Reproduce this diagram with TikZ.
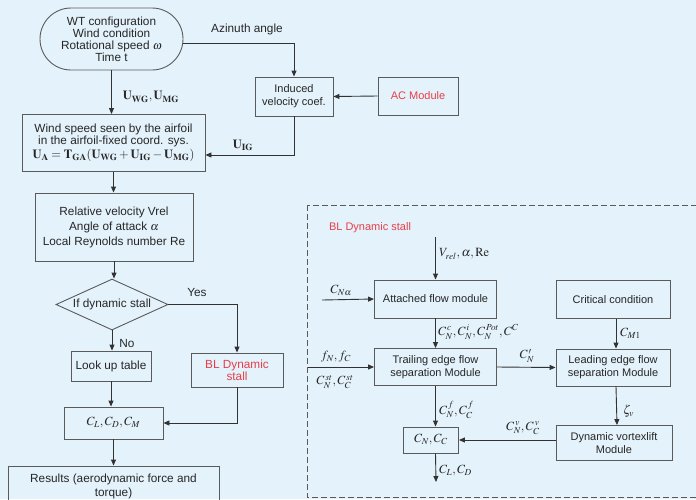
\documentclass[tikz,border=0pt]{standalone}
\usepackage{mathptmx}
\usepackage{fontspec}
\setmainfont{Liberation Sans}
\usetikzlibrary{arrows.meta,shapes.geometric,calc}
\definecolor{bg}{RGB}{228,242,251}
\definecolor{edge}{RGB}{90,90,90}
\definecolor{lncol}{RGB}{50,50,50}
\definecolor{redtxt}{RGB}{232,62,72}
\newcommand\fs{\fontsize{11.8}{12}\selectfont}
\newcommand\fsr{\fontsize{11}{13}\selectfont}
\tikzset{
  box/.style={draw=edge, line width=0.9pt, align=center, inner sep=1pt, font=\fs, text=black!85},
  rbox/.style={box, font=\fsr},
  arr/.style={draw=lncol, line width=0.9pt, -{Triangle[length=6pt,width=5pt]}},
  lab/.style={font=\fs, inner sep=1pt, text=black!85},
  mlab/.style={font=\fontsize{12.5}{13}\selectfont, inner sep=1pt, text=black!85},
}
\begin{document}
\begin{tikzpicture}[x=1pt,y=-1pt]
\useasboundingbox (0,0) rectangle (696,499);
\fill[bg] (0,0) rectangle (696,499);
\clip (0,0) rectangle (696,499);

% left column
\node[box, rounded corners=31pt, minimum width=143pt, minimum height=62pt] (top) at (111.5,39)
  {WT configuration\\Wind condition\\Rotational speed $\omega$\\Time t};
\node[box, font=\fsr, minimum width=78pt, minimum height=39pt] (ind) at (294,96.5) {Induced\\velocity coef.};
\node[box, font=\fsr, minimum width=80pt, minimum height=38pt, text=redtxt] (ac) at (418,96) {AC Module};
\node[box, minimum width=183pt, minimum height=57pt] (ws) at (113.5,143)
  {Wind speed seen by the airfoil\\in the airfoil-fixed coord. sys.\\[2pt]
   \fontsize{12.5}{13}\selectfont$\mathbf{U}_{\mathbf{A}}=\mathbf{T}_{\mathbf{GA}}(\mathbf{U}_{\mathbf{WG}}+\mathbf{U}_{\mathbf{IG}}-\mathbf{U}_{\mathbf{MG}})$};
\node[box, minimum width=158pt, minimum height=68pt] (rel) at (114,227)
  {Relative velocity Vrel\\[3pt]Angle of attack $\alpha$\\[3pt]Local Reynolds number Re};
\node[box, diamond, shape aspect=2.2, inner sep=0pt, minimum width=112pt, minimum height=51pt] (dia) at (112,304.5) {If dynamic stall};
\node[box, minimum width=80pt, minimum height=30pt] (lut) at (111,366) {Look up table};
\node[box, minimum width=92pt, minimum height=34pt, text=redtxt] (bld) at (237,370) {BL Dynamic\\stall};
\node[box, minimum width=99pt, minimum height=32pt] (clcd) at (113.5,423) {\fontsize{12.5}{13}\selectfont$C_L, C_D, C_M$};
\node[box, minimum width=211pt, minimum height=40pt] (res) at (113.5,486) {Results (aerodynamic force and\\[2pt]torque)};

\node[lab] (az) at (247,29) {Azinuth angle};
\node[mlab] (uwg) at (151,97) {$\mathbf{U}_{\mathbf{WG}},\mathbf{U}_{\mathbf{MG}}$};
\node[mlab] (uig) at (243,145) {$\mathbf{U}_{\mathbf{IG}}$};
\node[lab] (yes) at (197,292) {Yes};
\node[lab] (no) at (127,343) {No};

\draw[arr] (top.south) -- (top.south |- ws.north);
\draw[arr] ($(top.east)+(0,4)$) -| (ind.north);
\draw[arr] (ac.west) -- (ind.east);
\draw[arr] (ind.south) |- ($(ws.east)+(0,12)$);
\draw[arr] (ws.south) -- (ws.south |- rel.north);
\draw[arr] (rel.south) -- (rel.south |- dia.north);
\draw[arr] (dia.east) -| (bld.north);
\draw[arr] (dia.south) -- (dia.south |- lut.north);
\draw[arr] (lut.south) -- (lut.south |- clcd.north);
\draw[arr] (bld.south) |- (clcd.east);
\draw[arr] (clcd.south) -- (clcd.south |- res.north);

% right: BL dynamic stall
\draw[edge, line width=0.9pt, dash pattern=on 6pt off 3pt] (307,205) rectangle (705,497);
\node[font=\fsr, text=redtxt, inner sep=1pt] (bltitle) at (370,228) {BL Dynamic stall};

\node[rbox, minimum width=122pt, minimum height=38pt] (att) at (435.5,299) {Attached flow module};
\node[rbox, minimum width=114pt, minimum height=38pt] (crit) at (613,299.5) {Critical condition};
\node[rbox, minimum width=122pt, minimum height=37pt] (tra) at (435.5,367) {Trailing edge flow\\separation Module};
\node[rbox, minimum width=114pt, minimum height=37pt] (lea) at (613,367.5) {Leading edge flow\\separation Module};
\node[rbox, minimum width=55pt, minimum height=26pt] (cnc) at (431,440) {\fontsize{12.5}{13}\selectfont$C_N, C_C$};
\node[rbox, minimum width=116pt, minimum height=35pt] (dyn) at (614,443) {Dynamic vortexlift\\Module};

\coordinate (vin) at (435.5,237);
\coordinate (cna) at (322,300);
\coordinate (fin) at (308,367);
\coordinate (cout) at (436,482);

\draw[arr] (vin) -- (att.north);
\draw[arr] (cna) -- (att.west);
\draw[arr] (att.south) -- (tra.north);
\draw[arr] ([xshift=3pt]crit.south) -- ([xshift=3pt]lea.north);
\draw[arr] (fin) -- (tra.west);
\draw[arr] (tra.east) -- (lea.west);
\draw[arr] (tra.south) -- (tra.south |- cnc.north);
\draw[arr] ([xshift=3pt]lea.south) -- ([xshift=3pt]dyn.north);
\draw[arr] (dyn.west |- cnc.east) -- (cnc.east);
\draw[arr] (tra.south |- cnc.south) -- (cout);

\node[mlab, anchor=west] (lv) at (438,254) {$V_{rel}, \alpha, \mathrm{Re}$};
\node[mlab] (lcna) at (341,290) {$C_{N\alpha}$};
\node[mlab, anchor=west] (lc1) at (437,332) {$C_N^{\,c}, C_N^{\,i}, C_N^{\,Pot}, C^C$};
\node[mlab, anchor=west] (lcm) at (619,333) {$C_{M1}$};
\node[mlab] (lfn) at (336,357) {$f_N, f_C$};
\node[mlab] (lst) at (335,382) {$C_N^{\,st}, C_C^{\,st}$};
\node[mlab] (lcp) at (527,356) {$C_N^{\,\prime}$};
\node[mlab, anchor=west] (lcf) at (438,410) {$C_N^{\,f}, C_C^{\,f}$};
\node[mlab, anchor=west] (lzv) at (622,411) {$\zeta_v$};
\node[mlab] (lcv) at (523,428) {$C_N^{\,v}, C_C^{\,v}$};
\node[mlab, anchor=west] (lcl) at (438,471) {$C_L, C_D$};
\end{tikzpicture}
\end{document}
